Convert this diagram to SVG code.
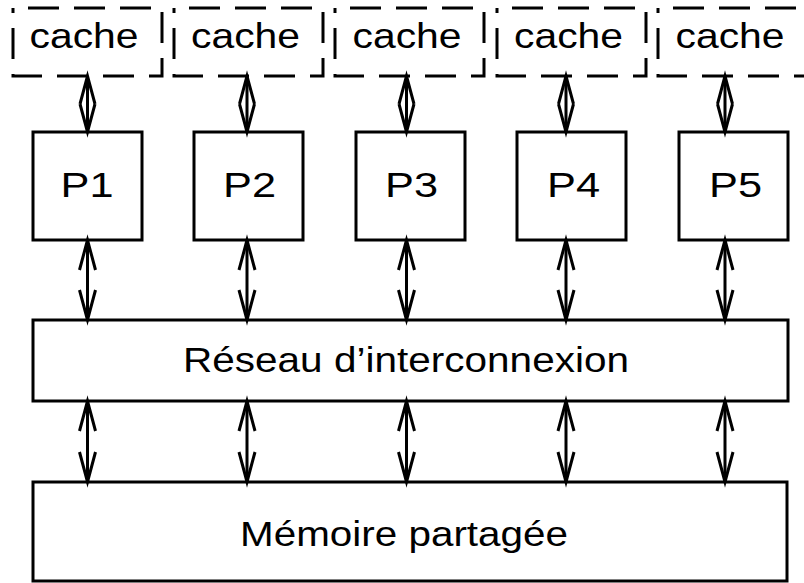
<svg xmlns="http://www.w3.org/2000/svg" width="804" height="583" viewBox="0 0 804 583">
  <style>
    .box { fill: #fff; stroke: #000; stroke-width: 3; }
    .cache { fill: none; stroke: #000; stroke-width: 3; stroke-dasharray: 31 15; stroke-dashoffset: 31; }
    .lbl { font-family: "Liberation Sans", Arial, Helvetica, sans-serif; font-size: 35px; fill: #000; text-anchor: middle; }
    .wire { fill: none; stroke: #000; stroke-width: 3; }
    .bus { marker-start: url(#vhead); marker-end: url(#vhead); }
    .cl { marker-start: url(#dhead); marker-end: url(#dhead); }
  </style>
  <defs>
    <!-- open V arrowhead for bus links -->
    <marker id="vhead" markerUnits="userSpaceOnUse" orient="auto-start-reverse" refX="0" refY="0" markerWidth="40" markerHeight="40" viewBox="-35 -20 40 40" overflow="visible">
      <path d="M-30,-8 L0,0 L-30,8" fill="none" stroke="#000" stroke-width="3" stroke-linejoin="miter" stroke-miterlimit="10"/>
    </marker>
    <!-- hollow head for cache links; two of them meet to form a diamond -->
    <marker id="dhead" markerUnits="userSpaceOnUse" orient="auto-start-reverse" refX="0" refY="0" markerWidth="40" markerHeight="40" viewBox="-35 -20 40 40" overflow="visible">
      <path d="M-28,-7.5 L0,0 L-28,7.5" fill="none" stroke="#000" stroke-width="3" stroke-linejoin="miter" stroke-miterlimit="10"/>
    </marker>
  </defs>

  <!-- caches -->
  <g id="cache1"><path class="cache" d="M13,8 H162 V76 H13 Z"/><text class="lbl" x="84" y="48" textLength="109" lengthAdjust="spacingAndGlyphs">cache</text></g>
  <g id="cache2"><path class="cache" d="M174,8 H323 V76 H174 Z"/><text class="lbl" x="245.5" y="48" textLength="109" lengthAdjust="spacingAndGlyphs">cache</text></g>
  <g id="cache3"><path class="cache" d="M335,8 H484 V76 H335 Z"/><text class="lbl" x="407" y="48" textLength="109" lengthAdjust="spacingAndGlyphs">cache</text></g>
  <g id="cache4"><path class="cache" d="M497,8 H646 V76 H497 Z"/><text class="lbl" x="568.5" y="48" textLength="109" lengthAdjust="spacingAndGlyphs">cache</text></g>
  <g id="cache5"><path class="cache" d="M658,8 H807 V76 H658 Z"/><text class="lbl" x="730" y="48" textLength="109" lengthAdjust="spacingAndGlyphs">cache</text></g>

  <!-- processors -->
  <g id="p1"><rect class="box" x="33" y="132" width="109" height="108"/><text class="lbl" x="87" y="197" font-size="36" textLength="53" lengthAdjust="spacingAndGlyphs">P1</text></g>
  <g id="p2"><rect class="box" x="194" y="132" width="109" height="108"/><text class="lbl" x="249.5" y="197" font-size="36" textLength="53" lengthAdjust="spacingAndGlyphs">P2</text></g>
  <g id="p3"><rect class="box" x="356" y="132" width="109" height="108"/><text class="lbl" x="411.5" y="197" font-size="36" textLength="53" lengthAdjust="spacingAndGlyphs">P3</text></g>
  <g id="p4"><rect class="box" x="517" y="132" width="109" height="108"/><text class="lbl" x="573.5" y="197" font-size="36" textLength="53" lengthAdjust="spacingAndGlyphs">P4</text></g>
  <g id="p5"><rect class="box" x="679" y="132" width="109" height="108"/><text class="lbl" x="735.5" y="197" font-size="36" textLength="53" lengthAdjust="spacingAndGlyphs">P5</text></g>

  <!-- interconnect -->
  <g id="reseau"><rect class="box" x="33" y="320" width="755" height="81"/><text class="lbl" x="406" y="372" font-size="36" textLength="446" lengthAdjust="spacingAndGlyphs">Réseau d’interconnexion</text></g>

  <!-- shared memory -->
  <g id="memoire"><rect class="box" x="33" y="482" width="754" height="99"/><text class="lbl" x="404" y="546" font-size="36" textLength="328" lengthAdjust="spacingAndGlyphs">Mémoire partagée</text></g>

  <!-- connectors -->
  <g id="connectors" class="wire">
    <path class="cl" d="M87.5,76 V132"/>
    <path class="cl" d="M247,76 V132"/>
    <path class="cl" d="M406.5,76 V132"/>
    <path class="cl" d="M566,76 V132"/>
    <path class="cl" d="M725,76 V132"/>

    <path class="bus" d="M87.5,240 V320"/>
    <path class="bus" d="M247,240 V320"/>
    <path class="bus" d="M406.5,240 V320"/>
    <path class="bus" d="M566,240 V320"/>
    <path class="bus" d="M725,240 V320"/>

    <path class="bus" d="M87.5,401 V482"/>
    <path class="bus" d="M247,401 V482"/>
    <path class="bus" d="M406.5,401 V482"/>
    <path class="bus" d="M566,401 V482"/>
    <path class="bus" d="M725,401 V482"/>
  </g>
</svg>
